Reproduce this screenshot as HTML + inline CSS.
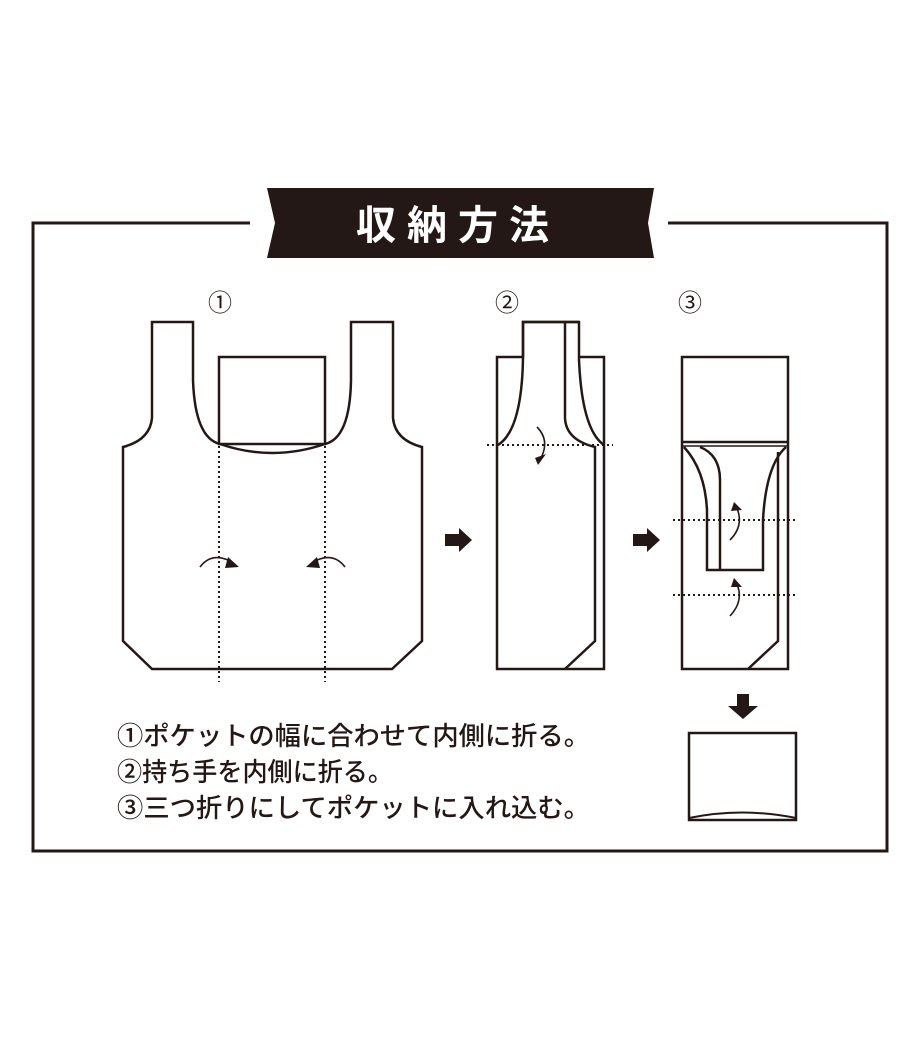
<!DOCTYPE html>
<html><head><meta charset="utf-8"><style>html,body{margin:0;padding:0;background:#fff}svg{display:block}</style></head>
<body>
<svg width="920" height="1040" viewBox="0 0 920 1040" xmlns="http://www.w3.org/2000/svg" font-family="'Liberation Sans','Noto Sans CJK JP',sans-serif">
<g fill="none" stroke="#231815" stroke-width="3">
<polyline points="250,223 33,223 33,851 887,851 887,223 668,223"/>
</g>
<polygon points="267,188 654,188 648,223 654,258 267,258 275,223" fill="#231815"/>
<text x="458" y="239" text-anchor="middle" font-size="40" font-weight="bold" fill="#fff" letter-spacing="11" font-family="'Noto Sans CJK JP',sans-serif">収納方法</text>

<g font-size="24" fill="#231815" text-anchor="middle" font-family="'Noto Sans CJK JP',sans-serif">
<text x="220" y="311">①</text><text x="507" y="311">②</text><text x="690" y="311">③</text>
</g>

<g fill="none" stroke="#231815" stroke-width="2.5" stroke-linejoin="miter">
<path d="M193,322 L152,322 L152,418 Q150,440 123,447 L123,641 L152,669 L392,669 L422,641 L422,447 Q395,440 393,418 L393,322 L351,322 L351,380 Q350,438 325,444 Q272,462 220,444 Q195,438 193,380 Z"/>
<rect x="219" y="357" width="106" height="87"/>
<rect x="497" y="357" width="107" height="312"/>
<path d="M523,357 L523,322 L579,322 L579,360 Q582,430 604,445" fill="#fff"/>
<path d="M523,357 Q522,430 498,445"/>
<path d="M523,357 L523,322 L579,322"/>
<path d="M565,322 L565,418 Q566,440 595,447 L595,641 L565,669"/>
<rect x="682" y="357" width="106" height="312"/>
<line x1="682" y1="442" x2="788" y2="442"/>
<line x1="682" y1="446" x2="788" y2="446" stroke-width="1.5"/>
<path d="M684,447 Q705,470 707,510 L707,570 L763,570 L763,520 Q766,465 786,447"/>
<path d="M700,447 Q720,455 720,480 L720,570"/>
<path d="M778,452 L778,641 L748,669"/>
<rect x="689" y="733" width="107" height="87"/>
<path d="M689,818 Q742,807 796,818" stroke-width="2"/>
</g>

<g stroke="#231815" stroke-width="2" stroke-dasharray="2,3" fill="none">
<line x1="219" y1="446" x2="219" y2="682"/>
<line x1="325" y1="446" x2="325" y2="682"/>
<line x1="487" y1="445" x2="613" y2="445"/>
<line x1="673" y1="520" x2="797" y2="520"/>
<line x1="673" y1="595" x2="797" y2="595"/>
</g>

<g stroke="#231815" stroke-width="1.6" fill="none">
<path d="M200,567 Q212,551 232,562"/>
<path d="M345,567 Q333,551 313,562"/>
<path d="M537,427 Q550,440 541,458"/>
<path d="M730,540 Q745,525 736,506"/>
<path d="M730,616 Q745,600 736,582"/>
</g>
<g fill="#231815">
<polygon points="228,557 239,567 225,568"/>
<polygon points="317,557 306,567 320,568"/>
<polygon points="535,458 546,454 538,465"/>
<polygon points="734,502 742,510 731,511"/>
<polygon points="734,578 742,587 731,587"/>
</g>

<g fill="#231815">
<polygon points="445,534 459,534 459,528 472,540 459,552 459,546 445,546"/>
<polygon points="633,534 647,534 647,528 660,540 647,552 647,546 633,546"/>
<polygon points="737,694 749,694 749,706 758,706 743,719 728,706 737,706"/>
</g>

<g font-size="26" fill="#231815" font-weight="500" font-family="'Noto Sans CJK JP',sans-serif">
<text x="117" y="745" textLength="473" lengthAdjust="spacingAndGlyphs">①ポケットの幅に合わせて内側に折る。</text>
<text x="117" y="781" textLength="276" lengthAdjust="spacingAndGlyphs">②持ち手を内側に折る。</text>
<text x="117" y="817" textLength="473" lengthAdjust="spacingAndGlyphs">③三つ折りにしてポケットに入れ込む。</text>
</g>
</svg>
</body></html>
